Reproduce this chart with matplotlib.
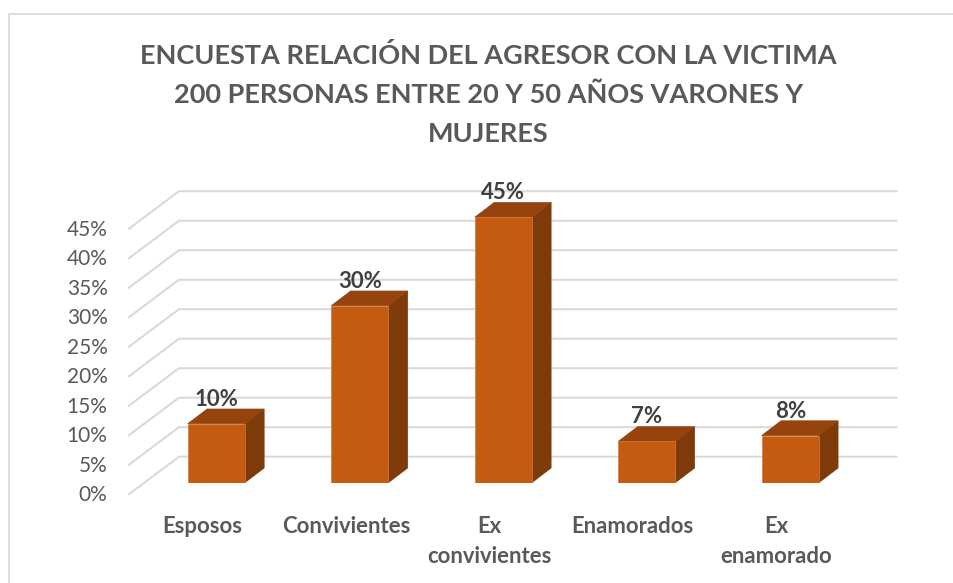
import matplotlib
matplotlib.use('Agg')
import matplotlib.pyplot as plt
from matplotlib.patches import Polygon, Rectangle
from matplotlib.transforms import offset_copy

plt.rcParams['font.family'] = ['Lato', 'DejaVu Sans']

W, H = 954, 583
categories = ['Esposos', 'Convivientes', 'Ex\nconvivientes', 'Enamorados', 'Ex\nenamorado']
values = [10, 30, 45, 7, 8]
ticks = [0, 5, 10, 15, 20, 25, 30, 35, 40, 45]
tick_labels = ['0%', '5%', '10%', '15%', '20%', '25%', '30%', '35%', '40%', '45%']
title = 'ENCUESTA RELACIÓN DEL AGRESOR CON LA VICTIMA\n200 PERSONAS ENTRE 20 Y 50 AÑOS VARONES Y\nMUJERES'

fig = plt.figure(figsize=(W / 100, H / 100), dpi=100)

# chart frame, runs off the right and bottom of the image
fig.add_artist(Rectangle((9.5 / W, -0.05), 1.1, 1.05 - 14 / H, transform=fig.transFigure,
                         fc='white', ec='#D9D9D9', lw=1.3, zorder=-1))

# axes box = plane of the bars front faces
left, right, y0, y45 = 144.6, 862.0, 482.7, 217.2
ax = fig.add_axes([left / W, 1 - y0 / H, (right - left) / W, (y0 - y45) / H])
ax.set_xlim(-0.5, 4.5)
ax.set_ylim(0, 45)
ax.axis('off')

px_x = (right - left) / 5          # pixels per category
px_y = (y0 - y45) / 45             # pixels per percent


def dx(p):
    return p / px_x


def dy(p):
    return p / px_y


# gridlines: floor wall offsets in pixels from bar plane
for t in ticks:
    ax.plot([-0.5 + dx(-15.6), -0.5 + dx(34.4), 4.5 + dx(34.4)],
            [t + dy(-11.5), t + dy(26), t + dy(26)],
            color='#D9D9D9', lw=1.5, zorder=1, clip_on=False, solid_joinstyle='miter')

bar_w = 57 / px_x
depth_x, depth_y = dx(19.3), dy(14.7)
for i, v in enumerate(values):
    a, b = i - bar_w / 2, i + bar_w / 2
    ax.add_patch(Polygon([(b, 0), (b + depth_x, depth_y), (b + depth_x, v + depth_y), (b, v)],
                         fc='#7F3A09', ec='#7F3A09', lw=0.5, zorder=3, clip_on=False))
    ax.add_patch(Polygon([(a, v), (a + depth_x, v + depth_y), (b + depth_x, v + depth_y), (b, v)],
                         fc='#96430D', ec='#96430D', lw=0.5, zorder=3, clip_on=False))
    ax.add_patch(Rectangle((a, 0), bar_w, v, fc='#C55A11', ec='#D07A40', lw=0.5, zorder=4))
    ax.annotate(f'{v}%', (i, v), xytext=(0, 14), textcoords='offset pixels', ha='center',
                va='bottom', fontsize=16, fontweight='bold', color='#404040', zorder=5,
                annotation_clip=False)

# y tick labels follow the front edge of the floor
tick_tr = offset_copy(ax.get_yaxis_transform(), fig=fig, x=0, y=-12.5 * 0.72, units='points')
for t, lab in zip(ticks, tick_labels):
    ax.text(-37 / (right - left), t, lab, transform=tick_tr, ha='right', va='center',
            fontsize=15, color='#595959', clip_on=False)

for i, c in enumerate(categories):
    ax.annotate(c, (i, 0), xytext=(-14, -33), textcoords='offset pixels', ha='center', va='top',
                fontsize=15.9, fontweight='bold', color='#595959', linespacing=1.55,
                annotation_clip=False)

fig.text(488.5 / W, 1 - 94.5 / H, title, ha='center', va='center', fontsize=19.5,
         fontweight='bold', color='#595959', linespacing=1.72)

fig.savefig('out.png', dpi=100)
